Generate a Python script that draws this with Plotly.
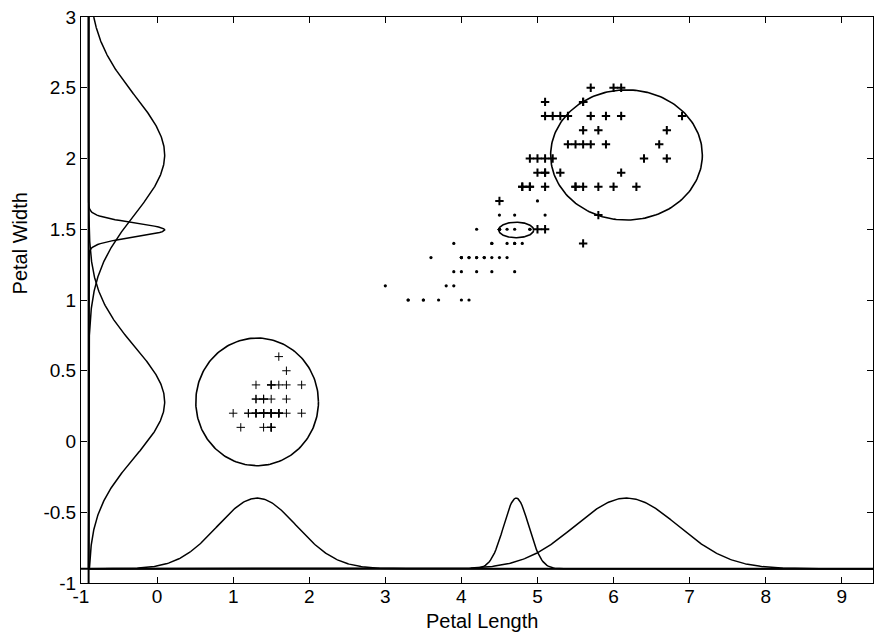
import numpy as np
import plotly.graph_objects as go

setosa_pl = [1.4,1.4,1.3,1.5,1.4,1.7,1.4,1.5,1.4,1.5,1.5,1.6,1.4,1.1,1.2,1.5,1.3,1.4,1.7,1.5,
             1.7,1.5,1.0,1.7,1.9,1.6,1.6,1.5,1.4,1.6,1.6,1.5,1.5,1.4,1.5,1.2,1.3,1.5,1.3,1.5,
             1.3,1.3,1.3,1.6,1.9,1.4,1.6,1.4,1.5,1.4]
setosa_pw = [0.2,0.2,0.2,0.2,0.2,0.4,0.3,0.2,0.2,0.1,0.2,0.2,0.1,0.1,0.2,0.4,0.4,0.3,0.3,0.3,
             0.2,0.4,0.2,0.5,0.2,0.2,0.4,0.2,0.2,0.2,0.2,0.4,0.1,0.2,0.1,0.2,0.2,0.1,0.2,0.2,
             0.3,0.3,0.2,0.6,0.4,0.3,0.2,0.2,0.2,0.2]
versicolor_pl = [4.7,4.5,4.9,4.0,4.6,4.5,4.7,3.3,4.6,3.9,3.5,4.2,4.0,4.7,3.6,4.4,4.5,4.1,4.5,3.9,
                 4.8,4.0,4.9,4.7,4.3,4.4,4.8,5.0,4.5,3.5,3.8,3.7,3.9,5.1,4.5,4.5,4.7,4.4,4.1,4.0,
                 4.4,4.6,4.0,3.3,4.2,4.2,4.2,4.3,3.0,4.1]
versicolor_pw = [1.4,1.5,1.5,1.3,1.5,1.3,1.6,1.0,1.3,1.4,1.0,1.5,1.0,1.4,1.3,1.4,1.5,1.0,1.5,1.1,
                 1.8,1.3,1.5,1.2,1.3,1.4,1.4,1.7,1.5,1.0,1.1,1.0,1.2,1.6,1.5,1.6,1.5,1.3,1.3,1.3,
                 1.2,1.4,1.2,1.0,1.3,1.2,1.3,1.3,1.1,1.3]
virginica_pl = [6.0,5.1,5.9,5.6,5.8,6.6,4.5,6.3,5.8,6.1,5.1,5.3,5.5,5.0,5.1,5.3,5.5,6.7,6.9,5.0,
                5.7,4.9,6.7,4.9,5.7,6.0,4.8,4.9,5.6,5.8,6.1,6.4,5.6,5.1,5.6,6.1,5.6,5.5,4.8,5.4,
                5.6,5.1,5.1,5.9,5.7,5.2,5.0,5.2,5.4,5.1]
virginica_pw = [2.5,1.9,2.1,1.8,2.2,2.1,1.7,1.8,1.8,2.5,2.0,1.9,2.1,2.0,2.4,2.3,1.8,2.2,2.3,1.5,
                2.3,2.0,2.0,1.8,2.1,1.8,1.8,1.8,2.1,1.6,1.9,2.0,2.2,1.5,1.4,2.3,2.4,1.8,1.8,2.1,
                2.4,2.3,1.9,2.3,2.5,2.3,1.9,2.0,2.3,1.8]

# mixture components
comp_mean_x = [1.315, 4.72, 6.17]
comp_mean_y = [0.28, 1.495, 2.025]
comp_sigma_x = [0.52, 0.165, 0.68]
comp_sigma_y = [0.39, 0.05, 0.42]
ellipse_rx = [0.806, 0.23, 0.997]
ellipse_ry = [0.451, 0.055, 0.46]

baseline = -0.9
bottom_peak = 0.5
left_peak = 1.0

x_ticks = [-1, 0, 1, 2, 3, 4, 5, 6, 7, 8, 9]
y_ticks = [-1, -0.5, 0, 0.5, 1, 1.5, 2, 2.5, 3]
x_range = [-1, 9.41]
y_range = [-1, 3]

FONT = 'Liberation Sans Narrow, Arial Narrow, Liberation Sans, Arial'

def lab(v):
    return '%g' % v

fig = go.Figure()
black = '#000000'

# baseline lines
fig.add_trace(go.Scatter(x=x_range, y=[baseline, baseline], mode='lines',
                         line=dict(color=black, width=2), hoverinfo='skip'))
fig.add_trace(go.Scatter(x=[baseline, baseline], y=y_range, mode='lines',
                         line=dict(color=black, width=2), hoverinfo='skip'))

# marginal density curves
xs = np.linspace(baseline, x_range[1], 600)
ys = np.linspace(baseline, y_range[1], 600)
for mx, sx in zip(comp_mean_x, comp_sigma_x):
    fig.add_trace(go.Scatter(x=xs, y=baseline + bottom_peak * np.exp(-(xs - mx) ** 2 / (2 * sx ** 2)),
                             mode='lines', line=dict(color=black, width=1.5), hoverinfo='skip'))
for my, sy in zip(comp_mean_y, comp_sigma_y):
    fig.add_trace(go.Scatter(x=baseline + left_peak * np.exp(-(ys - my) ** 2 / (2 * sy ** 2)), y=ys,
                             mode='lines', line=dict(color=black, width=1.5), hoverinfo='skip'))

# ellipses
t = np.linspace(0, 2 * np.pi, 200)
for mx, my, rx, ry in zip(comp_mean_x, comp_mean_y, ellipse_rx, ellipse_ry):
    fig.add_trace(go.Scatter(x=mx + rx * np.cos(t), y=my + ry * np.sin(t), mode='lines',
                             line=dict(color=black, width=1.6), hoverinfo='skip'))

# points
fig.add_trace(go.Scatter(x=setosa_pl, y=setosa_pw, mode='markers',
                         marker=dict(symbol='cross-thin-open', size=6, color=black,
                                     line=dict(color=black, width=1))))
fig.add_trace(go.Scatter(x=versicolor_pl, y=versicolor_pw, mode='markers',
                         marker=dict(symbol='circle', size=3.2, color=black, line=dict(width=0))))
fig.add_trace(go.Scatter(x=virginica_pl, y=virginica_pw, mode='markers',
                         marker=dict(symbol='cross-thin-open', size=6, color=black,
                                     line=dict(color=black, width=2))))

axis_common = dict(showgrid=False, zeroline=False, showline=True, linecolor=black, linewidth=1,
                   mirror='allticks', ticks='inside', ticklen=6, tickcolor=black,
                   tickfont=dict(family=FONT, size=19, color=black))

fig.update_layout(
    width=875, height=637,
    margin=dict(l=81, r=2, t=17, b=54),
    paper_bgcolor='white', plot_bgcolor='white',
    showlegend=False,
    xaxis=dict(range=x_range, tickvals=x_ticks, ticktext=[lab(v) for v in x_ticks],
               ticklabelstandoff=-4, **axis_common),
    yaxis=dict(range=y_range, tickvals=y_ticks, ticktext=[lab(v) for v in y_ticks],
               ticklabelstandoff=0, **axis_common),
    annotations=[
        dict(text='Petal Length', xref='paper', yref='paper', x=0.506, y=-0.068,
             xanchor='center', yanchor='middle', showarrow=False,
             font=dict(family=FONT, size=20, color=black)),
        dict(text='Petal Width', xref='paper', yref='paper', x=-0.077, y=0.6,
             xanchor='center', yanchor='middle', textangle=-90, showarrow=False,
             font=dict(family=FONT, size=20, color=black)),
    ],
)

fig.write_html('out.html')
